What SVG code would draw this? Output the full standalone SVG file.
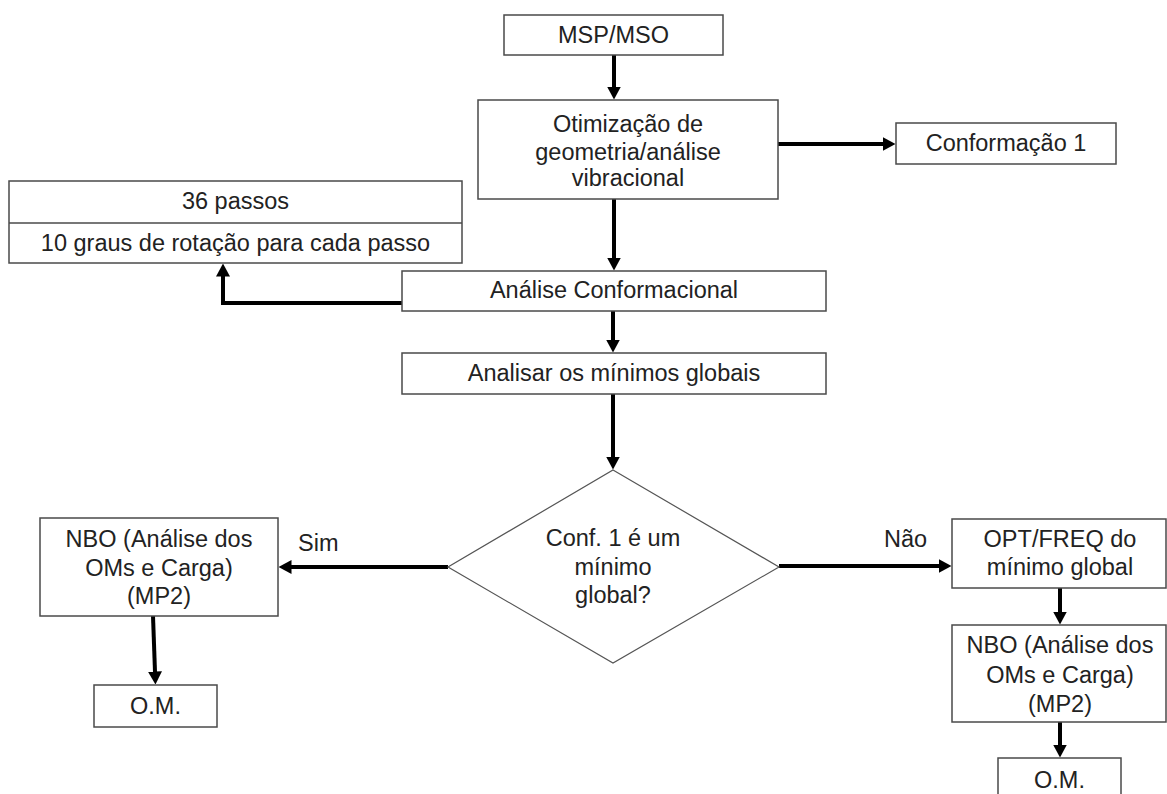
<svg xmlns="http://www.w3.org/2000/svg" width="1167" height="794" viewBox="0 0 1167 794">
<style>
.box{fill:#fff;stroke:#4a4a4a;stroke-width:1.5}
.t{font-family:"Liberation Sans",Arial,sans-serif;font-size:23.5px;fill:#222;text-anchor:middle}
.ts{text-anchor:start}
.c{fill:none;stroke:#000;stroke-width:4}
</style>
<defs>
<marker id="ah" viewBox="0 0 13 14" refX="0.5" refY="7" markerWidth="13" markerHeight="14" markerUnits="userSpaceOnUse" orient="auto">
<path d="M0,0 L13,7 L0,14 z" fill="#000"/>
</marker>
</defs>
<rect width="1167" height="794" fill="#fff"/>
<g id="connectors">
<path class="c" d="M614,55 V87" marker-end="url(#ah)"/>
<path class="c" d="M778,144 H883" marker-end="url(#ah)"/>
<path class="c" d="M614,199 V258" marker-end="url(#ah)"/>
<path class="c" d="M402,303 H223 V276" marker-end="url(#ah)"/>
<path class="c" d="M613,311 V340" marker-end="url(#ah)"/>
<path class="c" d="M613,394 V457" marker-end="url(#ah)"/>
<path class="c" d="M448,567 H291" marker-end="url(#ah)"/>
<path class="c" d="M153,616 L155,672" marker-end="url(#ah)"/>
<path class="c" d="M779,566 H939" marker-end="url(#ah)"/>
<path class="c" d="M1060,588 V612" marker-end="url(#ah)"/>
<path class="c" d="M1060,722 V745" marker-end="url(#ah)"/>
</g>
<g id="msp">
<rect class="box" x="504" y="15" width="219" height="40"/>
<text class="t" x="613.5" y="43">MSP/MSO</text>
</g>
<g id="otimizacao">
<rect class="box" x="478" y="100" width="300" height="99"/>
<text class="t" x="628" y="132">Otimização de</text>
<text class="t" x="628" y="160">geometria/análise</text>
<text class="t" x="628" y="186">vibracional</text>
</g>
<g id="conformacao1">
<rect class="box" x="896" y="123" width="220" height="41"/>
<text class="t" x="1006" y="151">Conformação 1</text>
</g>
<g id="passos">
<rect class="box" x="9" y="181" width="453" height="82"/>
<line x1="9" y1="223" x2="462" y2="223" stroke="#4a4a4a" stroke-width="1.5"/>
<text class="t" x="235.5" y="209">36 passos</text>
<text class="t" x="235.5" y="251">10 graus de rotação para cada passo</text>
</g>
<g id="analise-conf">
<rect class="box" x="402" y="271" width="424" height="40"/>
<text class="t" x="614" y="298">Análise Conformacional</text>
</g>
<g id="analisar">
<rect class="box" x="402" y="353" width="424" height="41"/>
<text class="t" x="614" y="381">Analisar os mínimos globais</text>
</g>
<g id="decisao">
<polygon points="613,470 779,567 613,663 448,567" fill="#fff" stroke="#555" stroke-width="1.2"/>
<text class="t" x="613" y="546">Conf. 1 é um</text>
<text class="t" x="613" y="575">mínimo</text>
<text class="t" x="613" y="603">global?</text>
</g>
<g id="sim-label">
<text class="t ts" x="298" y="551">Sim</text>
</g>
<g id="nao-label">
<text class="t ts" x="884" y="547">Não</text>
</g>
<g id="nbo-esq">
<rect class="box" x="40" y="518" width="238" height="98"/>
<text class="t" x="159" y="547">NBO (Análise dos</text>
<text class="t" x="159" y="576">OMs e Carga)</text>
<text class="t" x="159" y="604">(MP2)</text>
</g>
<g id="om-esq">
<rect class="box" x="94" y="685" width="123" height="42"/>
<text class="t" x="155.5" y="714">O.M.</text>
</g>
<g id="opt-freq">
<rect class="box" x="952" y="519" width="214" height="69"/>
<text class="t" x="1060" y="547">OPT/FREQ do</text>
<text class="t" x="1060" y="575">mínimo global</text>
</g>
<g id="nbo-dir">
<rect class="box" x="952" y="625" width="214" height="97"/>
<text class="t" x="1060" y="653">NBO (Análise dos</text>
<text class="t" x="1060" y="683">OMs e Carga)</text>
<text class="t" x="1060" y="712">(MP2)</text>
</g>
<g id="om-dir">
<rect class="box" x="998" y="758" width="123" height="40"/>
<text class="t" x="1059.5" y="788">O.M.</text>
</g>
</svg>
